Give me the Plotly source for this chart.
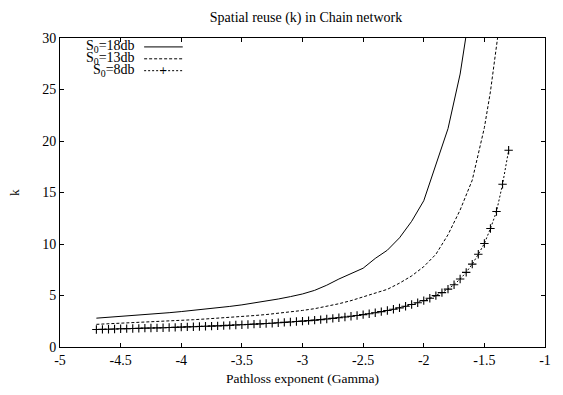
import plotly.graph_objects as go

# ---- data ----
gamma_8db = [-4.70, -4.65, -4.60, -4.55, -4.50, -4.45, -4.40, -4.35, -4.30, -4.25,
             -4.20, -4.15, -4.10, -4.05, -4.00, -3.95, -3.90, -3.85, -3.80, -3.75,
             -3.70, -3.65, -3.60, -3.55, -3.50, -3.45, -3.40, -3.35, -3.30, -3.25,
             -3.20, -3.15, -3.10, -3.05, -3.00, -2.95, -2.90, -2.85, -2.80, -2.75,
             -2.70, -2.65, -2.60, -2.55, -2.50, -2.45, -2.40, -2.35, -2.30, -2.25,
             -2.20, -2.15, -2.10, -2.05, -2.00, -1.95, -1.90, -1.85, -1.80, -1.75,
             -1.70, -1.65, -1.60, -1.55, -1.50, -1.45, -1.40, -1.35, -1.30]
k_8db = [1.70, 1.71, 1.73, 1.75, 1.77, 1.78, 1.80, 1.81, 1.83, 1.84,
         1.86, 1.87, 1.89, 1.91, 1.93, 1.95, 1.97, 1.99, 2.01, 2.03,
         2.05, 2.08, 2.10, 2.13, 2.16, 2.19, 2.22, 2.25, 2.28, 2.31,
         2.35, 2.39, 2.43, 2.47, 2.51, 2.56, 2.61, 2.66, 2.72, 2.78,
         2.84, 2.91, 2.98, 3.06, 3.14, 3.23, 3.33, 3.43, 3.54, 3.66,
         3.80, 3.95, 4.12, 4.30, 4.50, 4.73, 4.99, 5.28, 5.62, 6.05,
         6.60, 7.25, 8.05, 9.00, 10.05, 11.5, 13.15, 15.8, 19.1]

gamma_18db = [-4.7, -4.6, -4.5, -4.4, -4.3, -4.2, -4.1, -4.0, -3.9, -3.8,
              -3.7, -3.6, -3.5, -3.4, -3.3, -3.2, -3.1, -3.0, -2.9, -2.8,
              -2.7, -2.6, -2.5, -2.4, -2.3, -2.2, -2.1, -2.0, -1.9, -1.8,
              -1.7, -1.65]
k_18db = [2.80, 2.88, 2.96, 3.04, 3.13, 3.22, 3.33, 3.44, 3.55, 3.67,
          3.80, 3.94, 4.09, 4.26, 4.45, 4.66, 4.89, 5.15, 5.50, 6.00,
          6.60, 7.15, 7.65, 8.60, 9.40, 10.6, 12.2, 14.2, 17.8, 21.2,
          26.5, 30.3]

gamma_13db = [-4.7, -4.6, -4.5, -4.4, -4.3, -4.2, -4.1, -4.0, -3.9, -3.8,
              -3.7, -3.6, -3.5, -3.4, -3.3, -3.2, -3.1, -3.0, -2.9, -2.8,
              -2.7, -2.6, -2.5, -2.4, -2.3, -2.2, -2.1, -2.0, -1.9, -1.8,
              -1.7, -1.6, -1.5, -1.45, -1.4, -1.38]
k_13db = [2.20, 2.25, 2.30, 2.36, 2.41, 2.47, 2.53, 2.59, 2.65, 2.72,
          2.79, 2.86, 2.95, 3.05, 3.15, 3.27, 3.40, 3.55, 3.72, 3.95,
          4.20, 4.50, 4.85, 5.20, 5.60, 6.20, 6.90, 7.80, 9.00, 10.9,
          13.3, 16.2, 21.3, 24.8, 29.5, 31.0]

series_names = ["S<sub>0</sub>=18db", "S<sub>0</sub>=13db", "S<sub>0</sub>=8db"]

x_ticks = [-5, -4.5, -4, -3.5, -3, -2.5, -2, -1.5, -1]
x_tick_labels = ["-5", "-4.5", "-4", "-3.5", "-3", "-2.5", "-2", "-1.5", "-1"]
y_ticks = [0, 5, 10, 15, 20, 25, 30]
y_tick_labels = ["0", "5", "10", "15", "20", "25", "30"]

FONT = "Liberation Serif, Times New Roman, serif"

fig = go.Figure()
fig.add_trace(go.Scatter(x=gamma_18db, y=k_18db, mode="lines",
                         line=dict(color="black", width=1), name=series_names[0],
                         showlegend=False))
fig.add_trace(go.Scatter(x=gamma_13db, y=k_13db, mode="lines",
                         line=dict(color="black", width=1, dash="3px,2px"),
                         name=series_names[1], showlegend=False))
fig.add_trace(go.Scatter(x=gamma_8db, y=k_8db, mode="lines+markers",
                         line=dict(color="black", width=1, dash="2px,2px"),
                         marker=dict(symbol="cross-thin", size=6,
                                     line=dict(color="black", width=1.1)),
                         name=series_names[2], showlegend=False))

axis_common = dict(showline=True, linecolor="black", linewidth=1, mirror="ticks",
                   ticks="inside", ticklen=4, tickcolor="black", showgrid=False,
                   zeroline=False, ticklabeloverflow="allow",
                   tickfont=dict(family=FONT, size=14, color="black"))

fig.update_layout(
    width=563, height=395,
    margin=dict(l=60, r=13, t=38, b=45),
    paper_bgcolor="white", plot_bgcolor="white",
    font=dict(family=FONT, size=14, color="black"),
    title=dict(text="Spatial reuse (k) in Chain network", x=306 / 563, xanchor="center",
               y=1 - 17 / 395, yanchor="middle",
               font=dict(family=FONT, size=14, color="black")),
    xaxis=dict(range=[-5, -1], tickvals=x_ticks, ticktext=x_tick_labels,
               title=dict(text="Pathloss exponent (Gamma)", standoff=6,
                          font=dict(family=FONT, size=13.5)),
               **axis_common),
    yaxis=dict(range=[0, 30], tickvals=y_ticks, ticktext=y_tick_labels,
               title=dict(text="k", standoff=19, font=dict(family=FONT, size=13.5)),
               **axis_common),
)

# ---- custom gnuplot-style legend (text left, sample right) ----
row_y = [1 - (47 - 38) / 312, 1 - (59 - 38) / 312, 1 - (71 - 38) / 312]
x_text_right = (138 - 60) / 490
x_line0 = (145 - 60) / 490
x_line1 = (184 - 60) / 490
dashes = ["solid", "3px,2px", "2px,2px"]
for i, name in enumerate(series_names):
    fig.add_annotation(xref="paper", yref="paper", x=x_text_right, y=row_y[i],
                       text=name, showarrow=False, xanchor="right", yanchor="middle",
                       font=dict(family=FONT, size=14, color="black"))
    fig.add_shape(type="line", xref="paper", yref="paper",
                  x0=x_line0, x1=x_line1, y0=row_y[i], y1=row_y[i],
                  line=dict(color="black", width=1, dash=dashes[i]))
fig.add_annotation(xref="paper", yref="paper", x=(x_line0 + x_line1) / 2, y=row_y[2],
                   text="+", showarrow=False, xanchor="center", yanchor="middle",
                   font=dict(family="DejaVu Sans", size=10, color="black"))

fig.write_html("out.html", config={"displayModeBar": False},
               post_script="document.body.style.margin='0';")
